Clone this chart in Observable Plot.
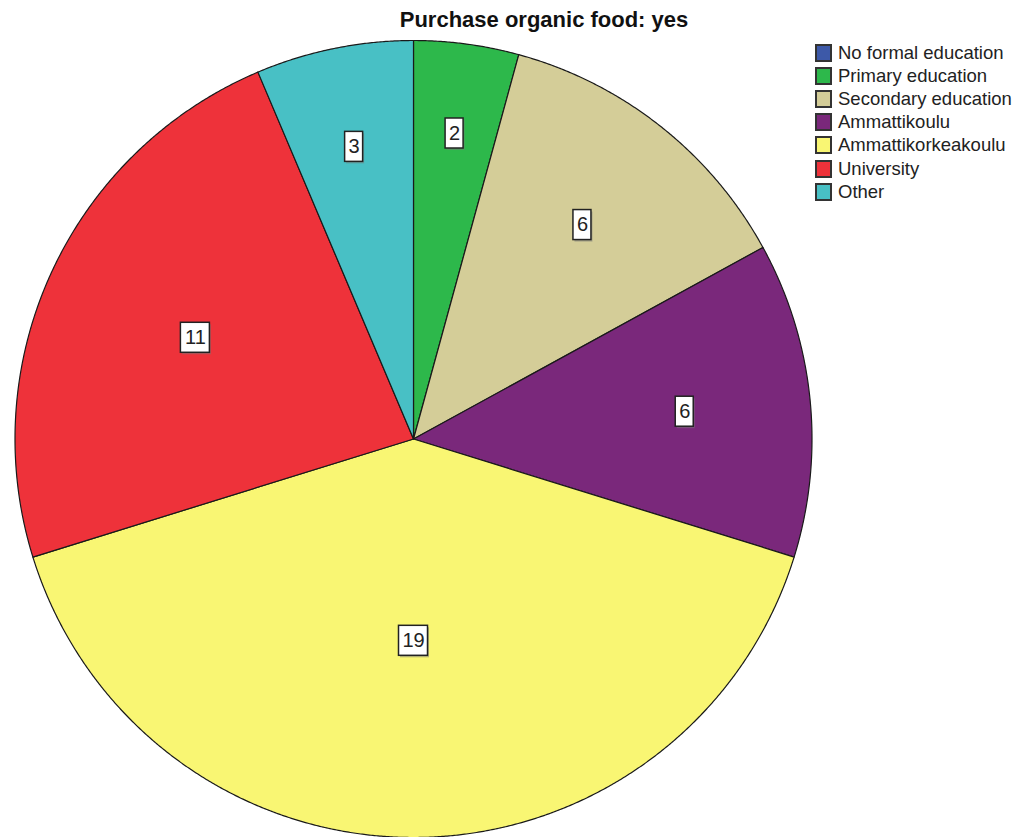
<!DOCTYPE html>
<html>
<head>
<meta charset="utf-8">
<script src="https://cdn.jsdelivr.net/npm/d3@7"></script>
<script src="https://cdn.jsdelivr.net/npm/@observablehq/plot@0.6"></script>
<style>
  body { margin: 0; background: #fff; }
  #chart { position: relative; width: 1022px; height: 837px; overflow: hidden;
           font-family: "Liberation Sans", Arial, sans-serif; }
  #plot { position: absolute; left: 0; top: 0; }
  #title { position: absolute; top: 9px; left: 544px; transform: translateX(-50%);
           font-weight: bold; font-size: 22px; line-height: 22px; white-space: nowrap; color: #111; }
  #legend { position: absolute; left: 815px; top: 41px; }
  .row { display: flex; align-items: center; height: 23.2px; font-size: 18.5px; color: #222; white-space: nowrap; }
  .sw { width: 13px; height: 14px; border: 2px solid #333; margin-right: 6px; }
</style>
</head>
<body>
<div id="chart">
  <div id="plot"></div>
  <div id="title"></div>
  <div id="legend"></div>
</div>
<script>
// Education level of respondents who buy organic food
const title = "Purchase organic food: yes";
const categories = [
  "No formal education",
  "Primary education",
  "Secondary education",
  "Ammattikoulu",
  "Ammattikorkeakoulu",
  "University",
  "Other"
];
const counts = [0, 2, 6, 6, 19, 11, 3];
const colors = ["#3d59a8", "#2db84b", "#d4cd98", "#7a287b", "#f9f673", "#ee323a", "#48c0c5"];

// Layout of the pie within the page (pixels)
const W = 1022, H = 837;
const CX = 413, CY = 438.5, R = 398.5;

// Pie angles start at 12 o'clock and run clockwise
const slices = d3.pie().sort(null).value(d => d.count)(
  categories.map((category, i) => ({category, count: counts[i]}))
);

// Each slice becomes a closed outline: centre -> arc -> centre
const outline = [];
for (const s of slices) {
  if (s.value <= 0) continue;
  const c = s.data.category;
  const n = Math.max(2, Math.ceil((s.endAngle - s.startAngle) / (Math.PI / 720)));
  outline.push({category: c, x: 0, y: 0});
  for (let k = 0; k <= n; k++) {
    const a = s.startAngle + (s.endAngle - s.startAngle) * k / n;
    outline.push({category: c, x: R * Math.sin(a), y: R * Math.cos(a)});
  }
  outline.push({category: c, x: 0, y: 0});
}

// Value labels: placed along the mid angle, between the slice's centroid and
// the centre of its inscribed circle
const labels = slices.filter(s => s.value > 0).map(s => {
  const half = (s.endAngle - s.startAngle) / 2;
  const mid = s.startAngle + half;
  const f = 0.5 / (1 + Math.sin(half)) + 0.5 * (2 * Math.sin(half) / (3 * half));
  const r = R * f;
  const text = String(s.value);
  return {text, x: r * Math.sin(mid), y: r * Math.cos(mid), w: text.length * 11 + 7};
});

const chart = Plot.plot({
  width: W,
  height: H,
  margin: 0,
  x: {domain: [-CX, W - CX], axis: null},
  y: {domain: [-(H - CY), CY], axis: null},
  color: {domain: categories, range: colors},
  style: {background: "transparent", fontFamily: "'Liberation Sans', Arial, sans-serif"},
  marks: [
    Plot.line(outline, {x: "x", y: "y", z: "category", fill: "category",
                        stroke: "#1a1a1a", strokeWidth: 1.2, curve: "linear"}),
    // soft drop shadow under each label box
    Plot.rect(labels, {x1: d => d.x - d.w / 2 + 1.5, x2: d => d.x + d.w / 2 + 1.5,
                       y1: d => d.y - 17, y2: d => d.y + 13,
                       fill: "#777", fillOpacity: 0.5}),
    Plot.rect(labels, {x1: d => d.x - d.w / 2, x2: d => d.x + d.w / 2,
                       y1: d => d.y - 15, y2: d => d.y + 15,
                       fill: "white", stroke: "#222", strokeWidth: 1.5}),
    Plot.text(labels, {x: "x", y: "y", text: "text", fontSize: 20, fill: "#222"})
  ]
});
document.getElementById("plot").appendChild(chart);

document.getElementById("title").textContent = title;

const legend = document.getElementById("legend");
categories.forEach((c, i) => {
  const row = document.createElement("div");
  row.className = "row";
  const sw = document.createElement("div");
  sw.className = "sw";
  sw.style.background = colors[i];
  const label = document.createElement("span");
  label.textContent = c;
  row.appendChild(sw);
  row.appendChild(label);
  legend.appendChild(row);
});
</script>
</body>
</html>
